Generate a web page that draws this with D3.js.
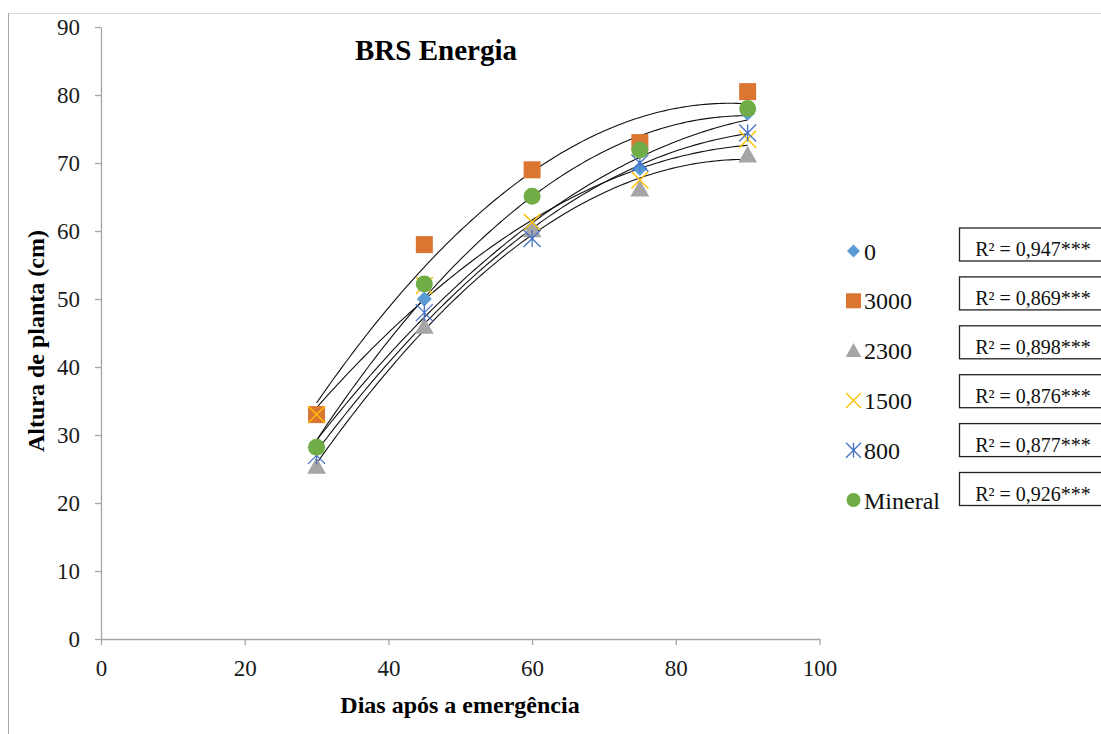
<!DOCTYPE html>
<html>
<head>
<meta charset="utf-8">
<script src="https://cdn.jsdelivr.net/npm/d3@7"></script>
<style>
  html, body { margin: 0; padding: 0; background: #fff; }
  svg text { font-family: "Liberation Serif", "Times New Roman", serif; }
</style>
</head>
<body>
<div id="chart"></div>
<script>
// Altura de planta - BRS Energia
const days = [30, 45, 60, 75, 90];
const seriesNames = ["0", "3000", "2300", "1500", "800", "Mineral"];
const s0 = [28, 50, 60.4, 69.2, 77.3];
const s3000 = [33, 58, 69, 73, 80.5];
const s2300 = [25.4, 46, 60.2, 66.2, 71.2];
const s1500 = [33, 52, 61.3, 67.5, 73.5];
const s800 = [27, 48, 58.9, 70, 74.4];
const sMineral = [28.2, 52.2, 65.1, 71.9, 78];
const r2Labels = ["R² = 0,947***", "R² = 0,869***", "R² = 0,898***", "R² = 0,876***", "R² = 0,877***", "R² = 0,926***"];
const xTicks = [0, 20, 40, 60, 80, 100];
const yTicks = [0, 10, 20, 30, 40, 50, 60, 70, 80, 90];

const values = [s0, s3000, s2300, s1500, s800, sMineral];
const colors = ["#5B9BD5", "#DB7532", "#A5A5A5", "#FFC000", "#4472C4", "#70AD47"];
const shapes = ["diamond", "square", "triangle", "x", "star", "circle"];

const width = 1101, height = 734;
const svg = d3.select("#chart").append("svg")
  .attr("width", width)
  .attr("height", height);

// moldura
svg.append("line").attr("x1", 8).attr("x2", width).attr("y1", 13.5).attr("y2", 13.5)
  .attr("stroke", "#d9d9d9").attr("stroke-width", 1);
svg.append("line").attr("x1", 8.5).attr("x2", 8.5).attr("y1", 13).attr("y2", height)
  .attr("stroke", "#a6a6a6").attr("stroke-width", 1);

const x = d3.scaleLinear().domain([0, 100]).range([101, 819.5]);
const y = d3.scaleLinear().domain([0, 90]).range([639, 27]);

// eixos
const xAxis = svg.append("g")
  .attr("transform", `translate(0,${y(0)})`)
  .call(d3.axisBottom(x).tickValues(xTicks).tickSize(6).tickPadding(15).tickSizeOuter(0));
const yAxis = svg.append("g")
  .attr("transform", `translate(${x(0)},0)`)
  .call(d3.axisLeft(y).tickValues(yTicks).tickSize(6).tickPadding(15).tickSizeOuter(0));

[xAxis, yAxis].forEach(ax => {
  ax.attr("font-family", null);
  ax.select(".domain").attr("stroke", "#a6a6a6").attr("stroke-width", 1.3);
  ax.selectAll(".tick line").attr("stroke", "#a6a6a6").attr("stroke-width", 1.3);
  ax.selectAll(".tick text")
    .style("font-family", "'Liberation Serif', serif")
    .attr("font-size", 23)
    .attr("fill", "#1a1a1a");
});

// títulos
svg.append("text")
  .attr("x", 436).attr("y", 60)
  .attr("text-anchor", "middle")
  .attr("font-weight", "bold").attr("font-size", 29)
  .text("BRS Energia");

svg.append("text")
  .attr("x", 460).attr("y", 713)
  .attr("text-anchor", "middle")
  .attr("font-weight", "bold").attr("font-size", 24)
  .text("Dias após a emergência");

svg.append("text")
  .attr("transform", "translate(44,341) rotate(-90)")
  .attr("text-anchor", "middle")
  .attr("font-weight", "bold").attr("font-size", 24)
  .text("Altura de planta (cm)");

// ajuste polinomial de 2a ordem (mínimos quadrados)
function quadFit(xs, ys) {
  const n = xs.length;
  let sx = 0, sx2 = 0, sx3 = 0, sx4 = 0, sy = 0, sxy = 0, sx2y = 0;
  for (let i = 0; i < n; i++) {
    const a = xs[i], b = ys[i];
    sx += a; sx2 += a * a; sx3 += a ** 3; sx4 += a ** 4;
    sy += b; sxy += a * b; sx2y += a * a * b;
  }
  // resolver sistema 3x3 por Cramer
  const M = [[n, sx, sx2], [sx, sx2, sx3], [sx2, sx3, sx4]];
  const V = [sy, sxy, sx2y];
  const det = m => m[0][0] * (m[1][1] * m[2][2] - m[1][2] * m[2][1])
    - m[0][1] * (m[1][0] * m[2][2] - m[1][2] * m[2][0])
    + m[0][2] * (m[1][0] * m[2][1] - m[1][1] * m[2][0]);
  const D = det(M);
  const coef = [0, 1, 2].map(k => det(M.map((row, i) => row.map((v, j) => j === k ? V[i] : v))) / D);
  return t => coef[0] + coef[1] * t + coef[2] * t * t;
}

const line = d3.line().x(d => x(d[0])).y(d => y(d[1])).curve(d3.curveLinear);
const trendG = svg.append("g");
values.forEach(vals => {
  const f = quadFit(days, vals);
  const pts = d3.range(days[0], days[days.length - 1] + 0.01, 0.5).map(t => [t, f(t)]);
  trendG.append("path")
    .attr("d", line(pts))
    .attr("fill", "none")
    .attr("stroke", "#111")
    .attr("stroke-width", 1.1);
});

// marcadores
function drawMarker(g, shape, color, s) {
  if (shape === "diamond") {
    g.append("path").attr("d", `M0,${-s * 0.5}L${s * 0.5},0L0,${s * 0.5}L${-s * 0.5},0Z`).attr("fill", color);
  } else if (shape === "square") {
    g.append("rect").attr("x", -s / 2).attr("y", -s / 2).attr("width", s).attr("height", s).attr("fill", color);
  } else if (shape === "triangle") {
    g.append("path").attr("d", `M0,${-s * 0.5}L${s * 0.52},${s * 0.42}L${-s * 0.52},${s * 0.42}Z`).attr("fill", color);
  } else if (shape === "x") {
    const h = s * 0.5;
    g.append("path").attr("d", `M${-h},${-h}L${h},${h}M${-h},${h}L${h},${-h}`)
      .attr("stroke", color).attr("stroke-width", 1.4).attr("fill", "none");
  } else if (shape === "star") {
    const h = s * 0.5;
    g.append("path").attr("d", `M${-h},${-h}L${h},${h}M${-h},${h}L${h},${-h}M0,${-h}L0,${h}`)
      .attr("stroke", color).attr("stroke-width", 1.3).attr("fill", "none");
  } else if (shape === "circle") {
    g.append("circle").attr("r", s / 2).attr("fill", color);
  }
}

const markerSize = { diamond: 15, square: 17, triangle: 18, x: 17, star: 17, circle: 17 };
values.forEach((vals, i) => {
  const g = svg.append("g");
  vals.forEach((v, j) => {
    const m = g.append("g").attr("transform", `translate(${x(days[j])},${y(v)})`);
    drawMarker(m, shapes[i], colors[i], markerSize[shapes[i]]);
  });
});

// legenda
const legendSize = { diamond: 13, square: 15, triangle: 15, x: 15, star: 15, circle: 14 };
const legend = svg.append("g");
seriesNames.forEach((name, i) => {
  const cy = 251 + i * 49.8;
  const m = legend.append("g").attr("transform", `translate(853.5,${cy})`);
  drawMarker(m, shapes[i], colors[i], legendSize[shapes[i]]);
  legend.append("text")
    .attr("x", 864).attr("y", cy + 8.5)
    .attr("font-size", 24)
    .attr("fill", "#111")
    .text(name);
});

// caixas de R²
const boxes = svg.append("g");
r2Labels.forEach((lab, i) => {
  const top = 228 + i * 48.9;
  boxes.append("rect")
    .attr("x", 959.5).attr("y", top)
    .attr("width", 160).attr("height", 33)
    .attr("fill", "#fff")
    .attr("stroke", "#222").attr("stroke-width", 1.3);
  boxes.append("text")
    .attr("x", 1033).attr("y", top + 28)
    .attr("text-anchor", "middle")
    .attr("font-size", 20)
    .attr("fill", "#111")
    .text(lab);
});
</script>
</body>
</html>
